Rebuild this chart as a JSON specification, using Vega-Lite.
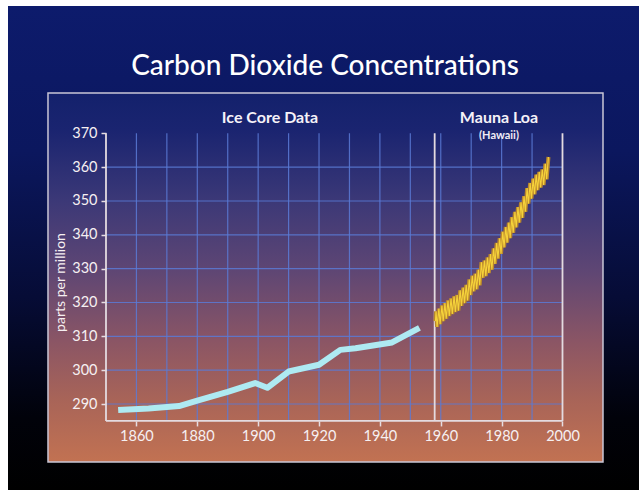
{
  "$schema": "https://vega.github.io/schema/vega-lite/v6.json",
  "width": 631,
  "height": 484,
  "autosize": "none",
  "padding": {"left": 8, "top": 6, "right": 0, "bottom": 0},
  "background": "#ffffff",
  "config": {
    "view": {
      "stroke": null,
      "fill": {"gradient": "linear", "x1": 0, "y1": 0, "x2": 0, "y2": 1,
        "stops": [
          {"offset": 0, "color": "#0d1b6c"},
          {"offset": 0.3, "color": "#0b175e"},
          {"offset": 0.6, "color": "#060c36"},
          {"offset": 0.85, "color": "#01020a"},
          {"offset": 1, "color": "#000000"}
        ]}
    },
    "font": "Lato"
  },
  "datasets": {
    "ice": [
      {"year": 1854, "ppm": 288.2},
      {"year": 1864, "ppm": 288.7},
      {"year": 1874, "ppm": 289.4},
      {"year": 1880, "ppm": 291.0},
      {"year": 1890, "ppm": 293.6},
      {"year": 1899, "ppm": 296.2},
      {"year": 1903, "ppm": 294.8},
      {"year": 1910, "ppm": 299.6},
      {"year": 1920, "ppm": 301.6},
      {"year": 1927, "ppm": 306.0},
      {"year": 1932, "ppm": 306.5},
      {"year": 1944, "ppm": 308.2},
      {"year": 1953, "ppm": 312.5}
    ],
    "mauna": [
      {"year": 1958.25, "ppm": 314.5}, {"year": 1958.45, "ppm": 317.4}, {"year": 1958.79, "ppm": 312.8},
      {"year": 1959.38, "ppm": 318.2}, {"year": 1959.79, "ppm": 313.6},
      {"year": 1960.38, "ppm": 319.1}, {"year": 1960.79, "ppm": 314.5},
      {"year": 1961.38, "ppm": 319.8}, {"year": 1961.79, "ppm": 315.2},
      {"year": 1962.38, "ppm": 320.6}, {"year": 1962.79, "ppm": 316.0},
      {"year": 1963.38, "ppm": 321.2}, {"year": 1963.79, "ppm": 316.6},
      {"year": 1964.38, "ppm": 321.8}, {"year": 1964.79, "ppm": 317.2},
      {"year": 1965.38, "ppm": 322.2}, {"year": 1965.79, "ppm": 317.6},
      {"year": 1966.38, "ppm": 323.6}, {"year": 1966.79, "ppm": 319.0},
      {"year": 1967.38, "ppm": 324.4}, {"year": 1967.79, "ppm": 319.8},
      {"year": 1968.38, "ppm": 325.2}, {"year": 1968.79, "ppm": 320.6},
      {"year": 1969.38, "ppm": 326.8}, {"year": 1969.79, "ppm": 322.2},
      {"year": 1970.38, "ppm": 327.9}, {"year": 1970.79, "ppm": 323.3},
      {"year": 1971.38, "ppm": 328.5}, {"year": 1971.79, "ppm": 323.9},
      {"year": 1972.38, "ppm": 329.7}, {"year": 1972.79, "ppm": 325.1},
      {"year": 1973.38, "ppm": 331.9}, {"year": 1973.79, "ppm": 327.3},
      {"year": 1974.38, "ppm": 332.4}, {"year": 1974.79, "ppm": 327.8},
      {"year": 1975.38, "ppm": 333.3}, {"year": 1975.79, "ppm": 328.7},
      {"year": 1976.38, "ppm": 334.3}, {"year": 1976.79, "ppm": 329.7},
      {"year": 1977.38, "ppm": 336.0}, {"year": 1977.79, "ppm": 331.4},
      {"year": 1978.38, "ppm": 337.6}, {"year": 1978.79, "ppm": 333.0},
      {"year": 1979.38, "ppm": 339.0}, {"year": 1979.79, "ppm": 334.4},
      {"year": 1980.38, "ppm": 340.9}, {"year": 1980.79, "ppm": 336.3},
      {"year": 1981.38, "ppm": 342.3}, {"year": 1981.79, "ppm": 337.7},
      {"year": 1982.38, "ppm": 343.6}, {"year": 1982.79, "ppm": 339.0},
      {"year": 1983.38, "ppm": 345.2}, {"year": 1983.79, "ppm": 340.6},
      {"year": 1984.38, "ppm": 346.8}, {"year": 1984.79, "ppm": 342.2},
      {"year": 1985.38, "ppm": 348.2}, {"year": 1985.79, "ppm": 343.6},
      {"year": 1986.38, "ppm": 349.6}, {"year": 1986.79, "ppm": 345.0},
      {"year": 1987.38, "ppm": 351.4}, {"year": 1987.79, "ppm": 346.8},
      {"year": 1988.38, "ppm": 353.8}, {"year": 1988.79, "ppm": 349.2},
      {"year": 1989.38, "ppm": 355.3}, {"year": 1989.79, "ppm": 350.7},
      {"year": 1990.38, "ppm": 356.6}, {"year": 1990.79, "ppm": 352.0},
      {"year": 1991.38, "ppm": 357.8}, {"year": 1991.79, "ppm": 353.2},
      {"year": 1992.38, "ppm": 358.6}, {"year": 1992.79, "ppm": 354.0},
      {"year": 1993.38, "ppm": 359.3}, {"year": 1993.79, "ppm": 354.7},
      {"year": 1994.38, "ppm": 361.0}, {"year": 1994.79, "ppm": 356.4},
      {"year": 1995.38, "ppm": 363.0}
    ],
    "vgrid": [
      {"gx": 1860}, {"gx": 1870}, {"gx": 1880}, {"gx": 1890}, {"gx": 1900},
      {"gx": 1910}, {"gx": 1920}, {"gx": 1930}, {"gx": 1940}, {"gx": 1950},
      {"gx": 1960}, {"gx": 1970}, {"gx": 1980}, {"gx": 1990}
    ],
    "hgrid": [
      {"gy": 290}, {"gy": 300}, {"gy": 310}, {"gy": 320}, {"gy": 330},
      {"gy": 340}, {"gy": 350}, {"gy": 360}
    ],
    "frame": [
      {"fx": 1850}, {"fx": 1958}, {"fx": 2000}
    ]
  },
  "layer": [
    {
      "data": {"values": [{"panel": "plot"}]},
      "mark": {"type": "rect", "stroke": "#c9c6d6", "strokeWidth": 1.5,
        "fill": {"gradient": "linear", "x1": 0, "y1": 0, "x2": 0, "y2": 1,
          "stops": [
            {"offset": 0, "color": "#13216c"},
            {"offset": 0.1, "color": "#1a2470"},
            {"offset": 0.29, "color": "#3b3877"},
            {"offset": 0.48, "color": "#5e4674"},
            {"offset": 0.67, "color": "#8a5565"},
            {"offset": 0.83, "color": "#a86458"},
            {"offset": 1, "color": "#c27252"}
          ]}},
      "encoding": {
        "x": {"datum": 1830.94, "type": "quantitative",
          "scale": {"domain": [1817.8, 2025.14], "nice": false, "zero": false},
          "axis": {"orient": "bottom", "values": [1860, 1880, 1900, 1920, 1940, 1960, 1980, 2000],
            "format": "d", "domain": false, "grid": false, "offset": -69.06, "zindex": 2,
            "tickColor": "#e6dde2", "tickSize": 5, "tickWidth": 1.5,
            "labelColor": "#f6f0f2", "labelFont": "Lato", "labelFontSize": 14.5,
            "labelPadding": 4, "title": null}},
        "x2": {"datum": 2013.31},
        "y": {"datum": 381.91, "type": "quantitative",
          "scale": {"domain": [264.59, 407.62], "nice": false, "zero": false},
          "axis": {"orient": "left", "values": [290, 300, 310, 320, 330, 340, 350, 360, 370],
            "domain": false, "grid": false, "offset": -98, "zindex": 2,
            "tickColor": "#e6dde2", "tickSize": 5, "tickWidth": 1.5,
            "labelColor": "#f6f0f2", "labelFont": "Lato", "labelFontSize": 14.5,
            "labelPadding": 4,
            "title": "parts per million", "titleColor": "#f6f0f2", "titleFont": "Lato",
            "titleFontSize": 14, "titleFontWeight": "normal",
            "titleX": -46, "titleY": 276, "titleAlign": "center", "titleBaseline": "middle", "titleAngle": 270}},
        "y2": {"datum": 272.87}
      }
    },
    {
      "data": {"name": "vgrid"},
      "mark": {"type": "rule", "color": "#5b7ad6", "strokeWidth": 1.2, "opacity": 0.85},
      "encoding": {
        "x": {"field": "gx", "type": "quantitative"},
        "y": {"datum": 285},
        "y2": {"datum": 370}
      }
    },
    {
      "data": {"name": "hgrid"},
      "mark": {"type": "rule", "color": "#5b7ad6", "strokeWidth": 1.2, "opacity": 0.85},
      "encoding": {
        "y": {"field": "gy", "type": "quantitative"},
        "x": {"datum": 1850},
        "x2": {"datum": 2000}
      }
    },
    {
      "data": {"name": "frame"},
      "mark": {"type": "rule", "color": "#e4dbe0", "strokeWidth": 1.8},
      "encoding": {
        "x": {"field": "fx", "type": "quantitative"},
        "y": {"datum": 285},
        "y2": {"datum": 370}
      }
    },
    {
      "data": {"values": [{"edge": "bottom"}]},
      "mark": {"type": "rule", "color": "#e4dbe0", "strokeWidth": 1.8},
      "encoding": {
        "y": {"datum": 285},
        "x": {"datum": 1850},
        "x2": {"datum": 2000}
      }
    },
    {
      "data": {"name": "ice"},
      "mark": {"type": "line", "color": "#aeeaf2", "strokeWidth": 6, "strokeJoin": "round", "strokeCap": "butt"},
      "encoding": {
        "x": {"field": "year", "type": "quantitative"},
        "y": {"field": "ppm", "type": "quantitative"}
      }
    },
    {
      "data": {"name": "mauna"},
      "mark": {"type": "line", "color": "#b8862e", "strokeWidth": 4, "strokeJoin": "miter"},
      "encoding": {
        "x": {"field": "year", "type": "quantitative"},
        "y": {"field": "ppm", "type": "quantitative"}
      }
    },
    {
      "data": {"name": "mauna"},
      "mark": {"type": "line", "color": "#f5d23a", "strokeWidth": 1.1},
      "encoding": {
        "x": {"field": "year", "type": "quantitative"},
        "y": {"field": "ppm", "type": "quantitative"}
      }
    },
    {
      "data": {"values": [{"label": "Carbon Dioxide Concentrations"}]},
      "mark": {"type": "text", "font": "Lato", "fontSize": 28, "fontWeight": 500, "color": "#ffffff", "align": "center", "baseline": "alphabetic"},
      "encoding": {
        "text": {"field": "label"},
        "x": {"datum": 1921.96},
        "y": {"datum": 387.3}
      }
    },
    {
      "data": {"values": [{"label": "Ice Core Data", "lx": 1903.9, "ly": 373.1}, {"label": "Mauna Loa", "lx": 1979.14, "ly": 373.1}]},
      "mark": {"type": "text", "font": "Lato", "fontSize": 16, "fontWeight": "bold", "color": "#f6f2f8", "align": "center", "baseline": "alphabetic"},
      "encoding": {
        "text": {"field": "label"},
        "x": {"field": "lx", "type": "quantitative"},
        "y": {"field": "ly", "type": "quantitative"}
      }
    },
    {
      "data": {"values": [{"label": "(Hawaii)"}]},
      "mark": {"type": "text", "font": "Lato", "fontSize": 11, "fontWeight": "bold", "color": "#f0ecf4", "align": "center", "baseline": "alphabetic"},
      "encoding": {
        "text": {"field": "label"},
        "x": {"datum": 1979.14},
        "y": {"datum": 368.3}
      }
    }
  ]
}
